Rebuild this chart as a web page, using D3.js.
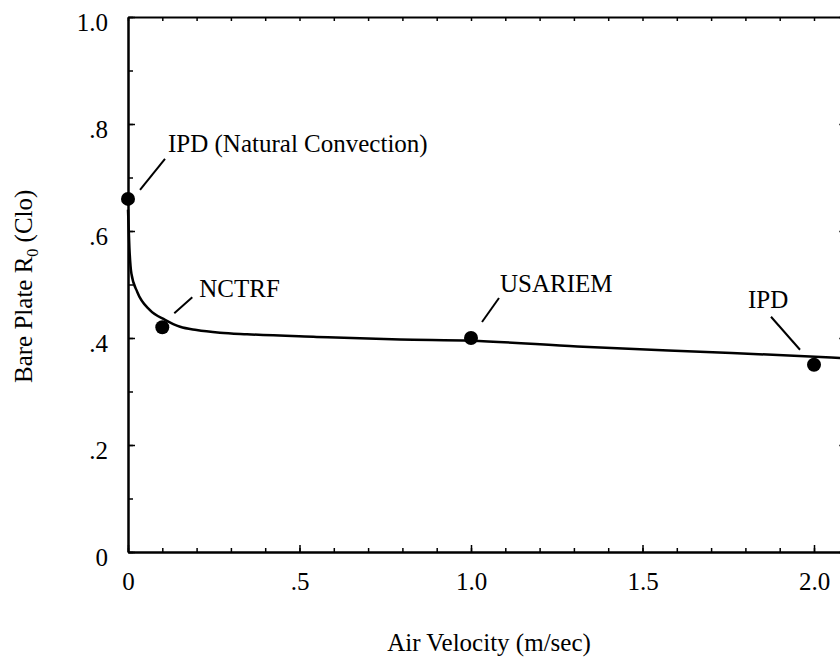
<!DOCTYPE html>
<html>
<head>
<meta charset="utf-8">
<script src="https://cdn.jsdelivr.net/npm/d3@7"></script>
<style>
  body { margin: 0; background: #fff; }
  svg { display: block; font-family: "Liberation Serif", "Times New Roman", serif; }
</style>
</head>
<body>
<div id="viz-container"></div>
<script>
// measured points (air velocity m/sec, bare plate R0 clo)
let pointNames = ["IPD (Natural Convection)", "NCTRF", "USARIEM", "IPD"];
let pointX = [0, 0.1, 1.0, 2.0];
let pointY = [0.66, 0.42, 0.40, 0.35];

// fitted curve
let curveX = [0, 0.004, 0.010, 0.027, 0.064, 0.108, 0.152, 0.200, 0.268, 0.347, 0.55, 0.793, 1.0, 1.31, 1.76, 2.1];
let curveY = [0.64, 0.57, 0.52, 0.486, 0.452, 0.434, 0.421, 0.415, 0.410, 0.407, 0.402, 0.397, 0.395, 0.384, 0.372, 0.362];

let xTickValues = [0, 0.5, 1.0, 1.5, 2.0];
let xTickLabels = ["0", ".5", "1.0", "1.5", "2.0"];
let yTickValues = [0, 0.2, 0.4, 0.6, 0.8, 1.0];
let yTickLabels = ["0", ".2", ".4", ".6", ".8", "1.0"];

let width = 840, height = 661;

let viz = d3.select("#viz-container")
  .append("svg")
    .attr("width", width)
    .attr("height", height);

viz.append("rect").attr("width", width).attr("height", height).attr("fill", "#fff");

let xScale = d3.scaleLinear().domain([0, 2.1]).range([128, 128 + 2.1 * 343]);
let yScale = d3.scaleLinear().domain([0, 1]).range([552, 17]);

let minorX = d3.range(0, 2.11, 0.1).map(v => +v.toFixed(2));
let minorY = d3.range(0, 1.01, 0.1).map(v => +v.toFixed(2));

function styleAxis(g) {
  g.select(".domain").attr("stroke", "#000").attr("stroke-width", 2);
  g.selectAll(".tick line").attr("stroke", "#000").attr("stroke-width", 1.5);
  g.selectAll(".tick text").attr("font-size", 25).attr("fill", "#000")
    .attr("font-family", "Liberation Serif, Times New Roman, serif");
}

// minor ticks on every side
viz.append("g").attr("transform", "translate(0,552)")
  .call(d3.axisBottom(xScale).tickValues(minorX).tickSize(-4).tickSizeOuter(0).tickFormat(""))
  .call(styleAxis);
viz.append("g").attr("transform", "translate(0,17)")
  .call(d3.axisTop(xScale).tickValues(minorX).tickSize(-4).tickSizeOuter(0).tickFormat(""))
  .call(styleAxis);
viz.append("g").attr("transform", "translate(128,0)")
  .call(d3.axisLeft(yScale).tickValues(minorY).tickSize(-5).tickSizeOuter(0).tickFormat(""))
  .call(styleAxis);
viz.append("g").attr("transform", "translate(" + xScale(2.1) + ",0)")
  .call(d3.axisRight(yScale).tickValues(yTickValues).tickSize(-9).tickSizeOuter(0).tickFormat(""))
  .call(styleAxis);

// major ticks with labels
let xAxis = viz.append("g").attr("transform", "translate(0,552)")
  .call(d3.axisBottom(xScale).tickValues(xTickValues).tickSize(-7).tickSizeOuter(0)
    .tickFormat((d, i) => xTickLabels[i]))
  .call(styleAxis);
xAxis.selectAll(".tick text").attr("y", 38).attr("dy", 0);

let yAxis = viz.append("g").attr("transform", "translate(128,0)")
  .call(d3.axisLeft(yScale).tickValues(yTickValues).tickSize(-7).tickSizeOuter(0).tickPadding(20)
    .tickFormat((d, i) => yTickLabels[i]))
  .call(styleAxis);
yAxis.selectAll(".tick text").attr("dy", 13);

// axis titles
viz.append("text")
  .attr("x", 489).attr("y", 651)
  .attr("text-anchor", "middle")
  .attr("font-size", 25)
  .text("Air Velocity (m/sec)");

let yTitle = viz.append("text")
  .attr("transform", "translate(32,383) rotate(-90)")
  .attr("font-size", 25);
yTitle.append("tspan").text("Bare Plate R");
yTitle.append("tspan").attr("font-size", 16).attr("dy", 6).text("0");
yTitle.append("tspan").attr("dy", -6).text(" (Clo)");

// fitted curve
let curveData = curveX.map((x, i) => [x, curveY[i]]);
let line = d3.line()
  .x(d => xScale(d[0]))
  .y(d => yScale(d[1]))
  .curve(d3.curveMonotoneX);

viz.append("path")
  .datum(curveData)
  .attr("d", line)
  .attr("fill", "none")
  .attr("stroke", "#000")
  .attr("stroke-width", 2.5);

// points
viz.selectAll(".points").data(pointX).enter().append("circle")
  .attr("class", "points")
  .attr("cx", d => xScale(d))
  .attr("cy", (d, i) => yScale(pointY[i]))
  .attr("r", 7)
  .attr("fill", "#000");

// label layout: leader line start/end and text position, offsets from the point in px
let labelLayout = [
  { l: [12, -9, 37, -40], t: [40, -47] },
  { l: [12, -14, 30, -30], t: [37, -30] },
  { l: [11, -16, 28, -40], t: [29, -46] },
  { l: [-43, -48, -14, -15], t: [-66, -57] }
];

pointNames.forEach(function(name, i) {
  let px = xScale(pointX[i]);
  let py = yScale(pointY[i]);
  let lay = labelLayout[i];
  viz.append("line")
    .attr("x1", px + lay.l[0]).attr("y1", py + lay.l[1])
    .attr("x2", px + lay.l[2]).attr("y2", py + lay.l[3])
    .attr("stroke", "#000").attr("stroke-width", 2);
  viz.append("text")
    .attr("x", px + lay.t[0]).attr("y", py + lay.t[1])
    .attr("font-size", 25)
    .text(name);
});
</script>
</body>
</html>
